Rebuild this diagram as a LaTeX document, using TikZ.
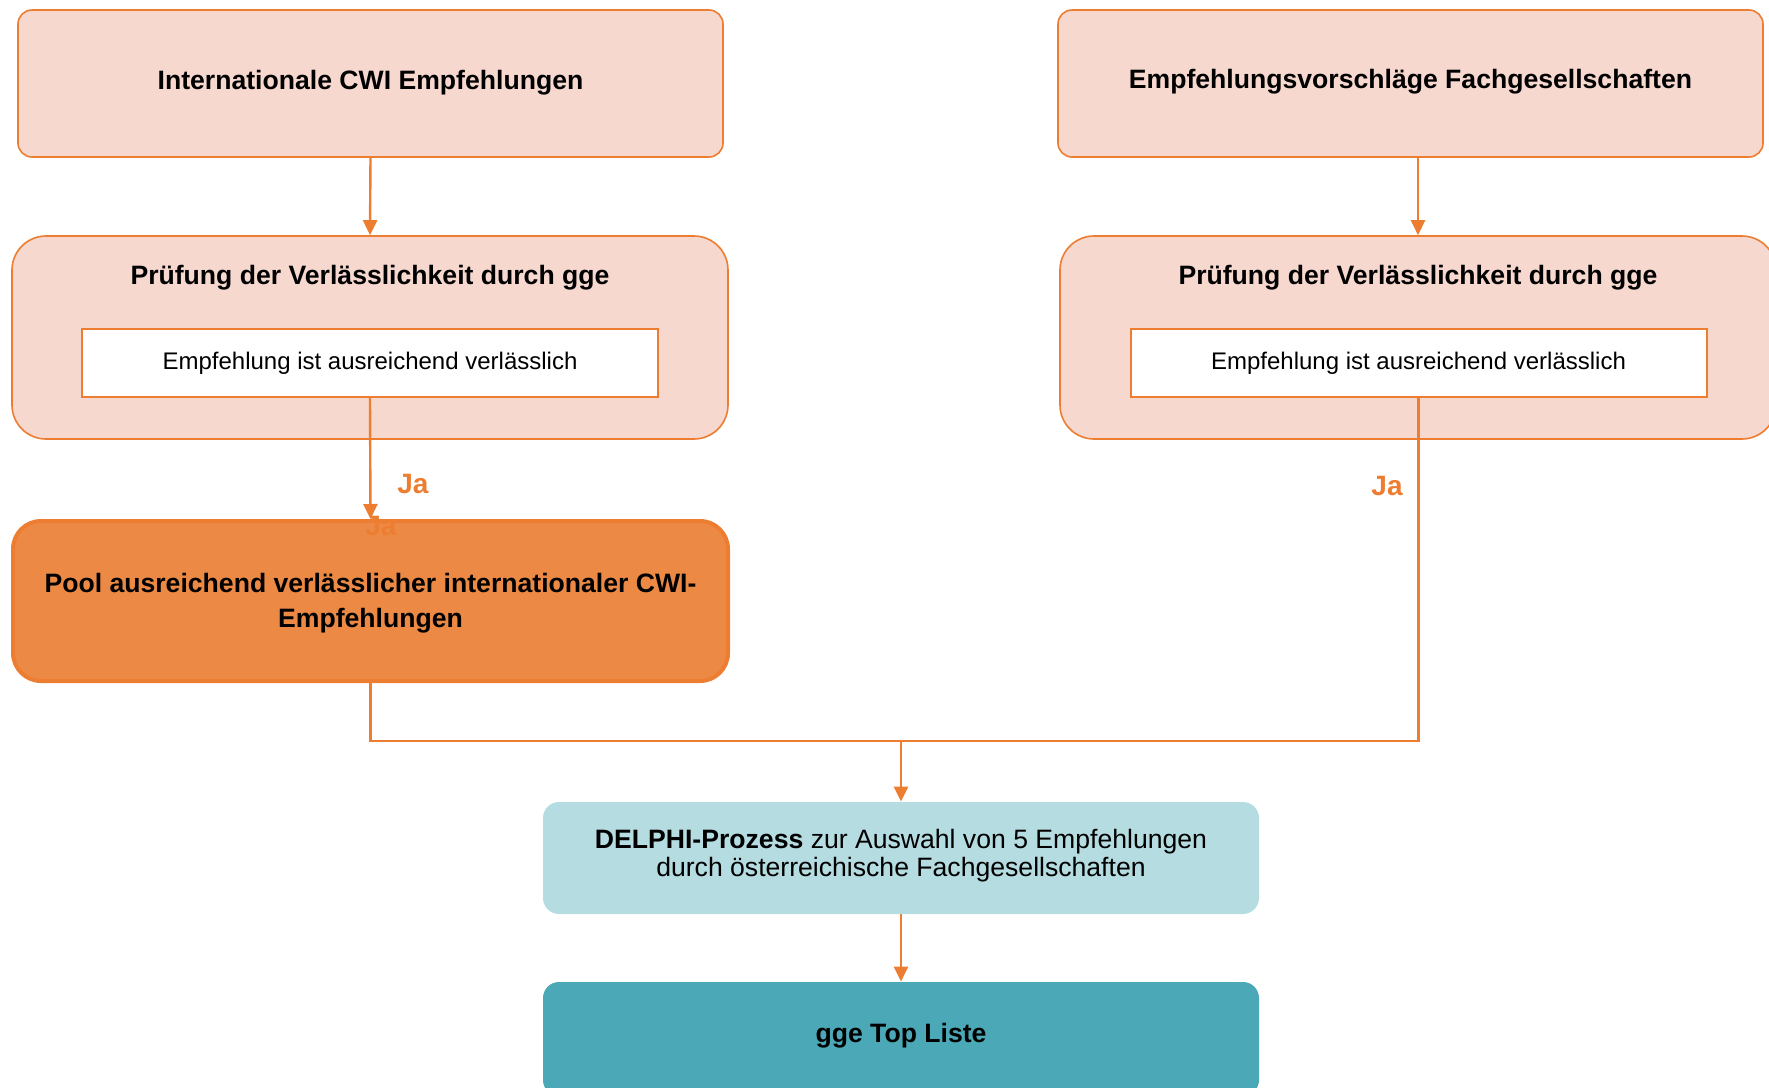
\documentclass[tikz,border=0pt]{standalone}
\usepackage{fontspec}
\setmainfont{Liberation Sans}
\usetikzlibrary{arrows.meta}
\definecolor{org}{HTML}{ED7D31}
\definecolor{lightfill}{HTML}{F6D8CF}
\definecolor{poolfill}{HTML}{EC8A45}
\definecolor{delphifill}{HTML}{B4DCE1}
\definecolor{topfill}{HTML}{4BA8B6}
\tikzset{
  lightbox/.style={draw=org, line width=0.8pt, fill=lightfill, inner sep=0pt},
  innerbox/.style={draw=org, line width=1pt, fill=white, inner sep=0pt, minimum width=288pt, minimum height=34pt, font=\fontsize{12}{14}\selectfont},
  boldtxt/.style={font=\fontsize{13.3}{16}\selectfont\bfseries, inner sep=0pt},
  conn/.style={draw=org, line width=1.2pt},
  arr/.style={conn, -{Triangle[length=7.5pt,width=7pt]}},
  jatxt/.style={font=\fontsize{14}{16}\selectfont\bfseries, text=org, inner sep=0pt}
}
\begin{document}
\begin{tikzpicture}[x=0.5pt,y=-0.5pt]
\useasboundingbox (0,0) rectangle (1769,1088);
\clip (0,0) rectangle (1769,1088);
% top boxes
\node[lightbox, rounded corners=7pt, minimum width=352.5pt, minimum height=73.5pt] (b1) at (370.5,83.5) {};
\node[boldtxt] (t1) at (370.5,82.5) {Internationale CWI Empfehlungen};
\node[lightbox, rounded corners=7pt, minimum width=352.5pt, minimum height=73.5pt] (b2) at (1410.5,83.5) {};
\node[boldtxt] (t2) at (1410.5,81.5) {Empfehlungsvorschläge Fachgesellschaften};
% check boxes
\node[lightbox, rounded corners=17pt, minimum width=358pt, minimum height=101.5pt] (b3) at (370,337.5) {};
\node[boldtxt] (t3) at (370,277.5) {Prüfung der Verlässlichkeit durch gge};
\node[innerbox] (in1) at (370,363) {Empfehlung ist ausreichend verlässlich};
\node[lightbox, rounded corners=17pt, minimum width=358pt, minimum height=101.5pt] (b4) at (1418,337.5) {};
\node[boldtxt] (t4) at (1418,277.5) {Prüfung der Verlässlichkeit durch gge};
\node[innerbox] (in2) at (1418.5,363) {Empfehlung ist ausreichend verlässlich};
% pool
\node[draw=org, line width=2pt, fill=poolfill, rounded corners=14pt, minimum width=357.5pt, minimum height=80pt, inner sep=0pt] (pool) at (370.5,601) {};
\node[boldtxt, align=center, font=\fontsize{13.3}{17.5}\selectfont\bfseries] (tpool) at (370.5,603.5) {Pool ausreichend verlässlicher internationaler CWI-\\Empfehlungen};
% delphi and top list
\node[fill=delphifill, rounded corners=8pt, minimum width=358pt, minimum height=56pt, inner sep=0pt] (delphi) at (901,858) {};
\node[align=center, inner sep=0pt, font=\fontsize{13.3}{14}\selectfont] (tdelphi) at (901,855.5) {\textbf{DELPHI-Prozess} zur Auswahl von 5 Empfehlungen\\durch österreichische Fachgesellschaften};
\node[fill=topfill, rounded corners=8pt, minimum width=358pt, minimum height=57pt, inner sep=0pt] (top) at (901,1039) {};
\node[boldtxt] (ttop) at (901,1035.5) {gge Top Liste};
% connectors
\draw[arr] (b1.south) -- (b3.north);
\draw[arr] (b2.south -| b4.north) -- (b4.north);
\draw[arr] (in1.south) -- (pool.north);
\node[jatxt] (ja1) at (413,484) {Ja};
\node[jatxt] (ja2) at (1387,486) {Ja};
\node[jatxt] (ja3) at (381,526) {Ja};
\coordinate (m) at (901,741);
\draw[conn] (pool.south) |- (m);
\draw[conn] (in2.south) |- (m);
\draw[arr] (m) -- (delphi.north);
\draw[arr] (delphi.south) -- (top.north);
\end{tikzpicture}
\end{document}
